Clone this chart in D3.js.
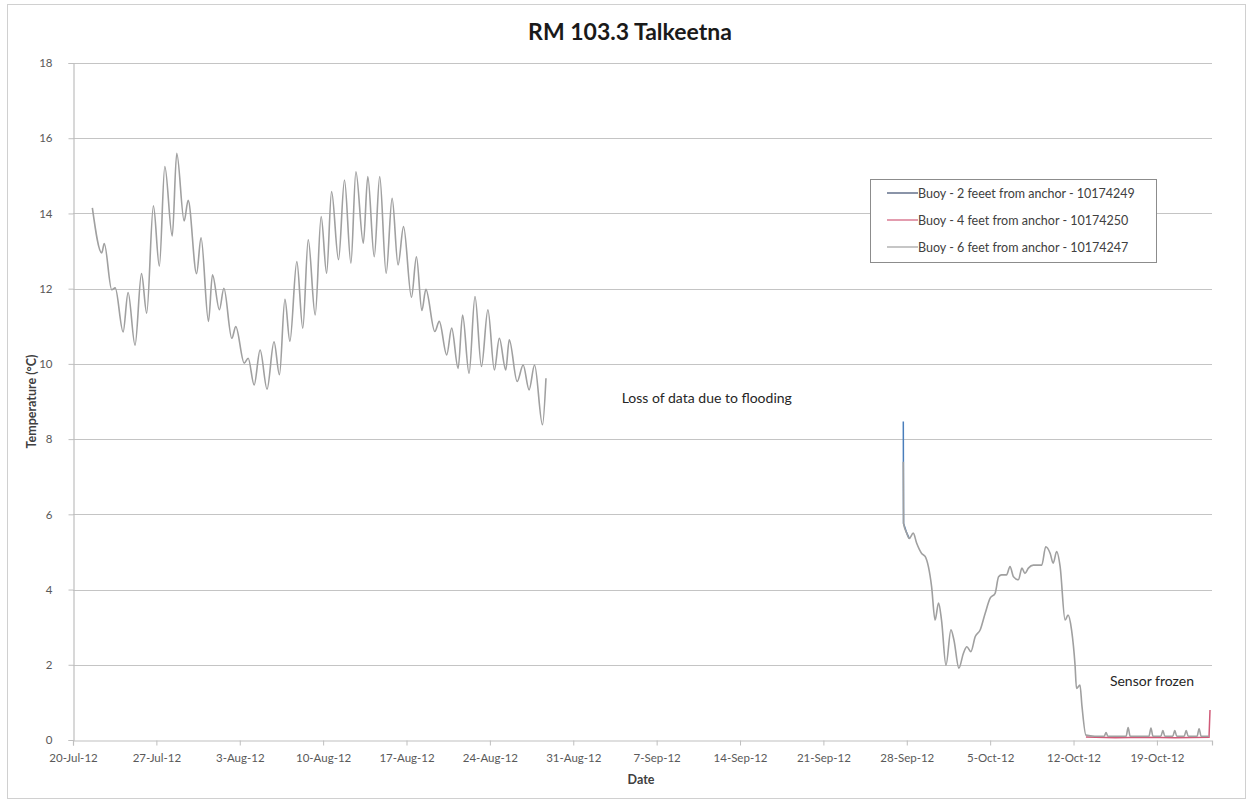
<!DOCTYPE html>
<html>
<head>
<meta charset="utf-8">
<script src="https://cdn.jsdelivr.net/npm/d3@7"></script>
<style>
  html, body { margin: 0; padding: 0; background: #fff; }
  svg { display: block; font-family: Lato, "Open Sans", "Liberation Sans", sans-serif; }
</style>
</head>
<body>
<svg id="chart" width="1252" height="803"></svg>
<script>
// ---------- DATA ----------
const chartTitle = "RM 103.3 Talkeetna";
const xAxisTitle = "Date";
const yAxisTitle = "Temperature (°C)";
const seriesNames = [
  "Buoy - 2 feeet from anchor - 10174249",
  "Buoy - 4 feet from anchor - 10174250",
  "Buoy - 6 feet from anchor - 10174247"
];
const yTicks = [0, 2, 4, 6, 8, 10, 12, 14, 16, 18];
const xTickDates = ["2012-07-20", "2012-07-27", "2012-08-03", "2012-08-10", "2012-08-17",
  "2012-08-24", "2012-08-31", "2012-09-07", "2012-09-14", "2012-09-21", "2012-09-28",
  "2012-10-05", "2012-10-12", "2012-10-19"];
const xDomain = ["2012-07-20 00:00", "2012-10-23 15:00"];
const annotations = [
  { text: "Loss of data due to flooding", date: "2012-09-11 05:00", value: 8.95 },
  { text: "Sensor frozen", date: "2012-10-18 14:00", value: 1.44 }
];

// Buoy 6 ft (gray) — summer segment, before flood
const buoy6Summer = [
  ["2012-07-21 15:00", 14.15], ["2012-07-22 10:00", 12.95], ["2012-07-22 15:00", 13.2],
  ["2012-07-23 06:00", 11.97], ["2012-07-23 13:00", 12.02], ["2012-07-24 05:00", 10.85],
  ["2012-07-24 15:00", 11.9], ["2012-07-25 05:00", 10.5], ["2012-07-25 18:00", 12.4],
  ["2012-07-26 04:30", 11.35], ["2012-07-26 18:00", 14.2], ["2012-07-27 06:00", 12.6],
  ["2012-07-27 17:00", 15.25], ["2012-07-28 08:00", 13.4], ["2012-07-28 17:00", 15.6],
  ["2012-07-29 08:00", 13.8], ["2012-07-29 16:00", 14.35], ["2012-07-30 09:00", 12.4],
  ["2012-07-30 18:00", 13.35], ["2012-07-31 09:00", 11.13], ["2012-07-31 17:00", 12.37],
  ["2012-08-01 07:00", 11.44], ["2012-08-01 16:00", 12.01], ["2012-08-02 08:00", 10.68],
  ["2012-08-02 16:00", 10.99], ["2012-08-03 09:00", 10.02], ["2012-08-03 17:00", 10.15],
  ["2012-08-04 05:00", 9.44], ["2012-08-04 17:00", 10.37], ["2012-08-05 07:00", 9.33],
  ["2012-08-05 21:00", 10.59], ["2012-08-06 08:00", 9.71], ["2012-08-06 19:00", 11.72],
  ["2012-08-07 05:00", 10.6], ["2012-08-07 19:00", 12.72], ["2012-08-08 07:00", 10.95],
  ["2012-08-08 18:00", 13.3], ["2012-08-09 08:00", 11.3], ["2012-08-09 20:00", 13.92],
  ["2012-08-10 07:00", 12.41], ["2012-08-10 17:00", 14.58], ["2012-08-11 07:00", 12.77],
  ["2012-08-11 19:00", 14.89], ["2012-08-12 08:00", 12.68], ["2012-08-12 18:00", 15.11],
  ["2012-08-13 09:00", 13.21], ["2012-08-13 18:00", 14.98], ["2012-08-14 07:00", 12.85],
  ["2012-08-14 18:00", 14.98], ["2012-08-15 07:00", 12.41], ["2012-08-15 19:00", 14.4],
  ["2012-08-16 07:00", 12.63], ["2012-08-16 18:00", 13.65], ["2012-08-17 10:00", 11.77],
  ["2012-08-17 20:00", 12.85], ["2012-08-18 07:00", 11.42], ["2012-08-18 15:00", 11.98],
  ["2012-08-19 09:00", 10.86], ["2012-08-19 18:00", 11.13], ["2012-08-20 09:00", 10.24],
  ["2012-08-20 19:00", 10.95], ["2012-08-21 08:00", 9.88], ["2012-08-21 17:00", 11.3],
  ["2012-08-22 06:00", 9.75], ["2012-08-22 18:00", 11.79], ["2012-08-23 07:00", 9.93],
  ["2012-08-23 20:00", 11.44], ["2012-08-24 09:00", 9.84], ["2012-08-24 19:00", 10.68],
  ["2012-08-25 08:00", 9.84], ["2012-08-25 15:00", 10.64], ["2012-08-26 07:00", 9.53],
  ["2012-08-26 19:00", 9.97], ["2012-08-27 07:00", 9.31], ["2012-08-27 18:00", 9.97],
  ["2012-08-28 10:00", 8.38], ["2012-08-28 17:00", 9.62]
];

// Buoy 6 ft (gray) — autumn segment, after flood
const buoy6Autumn = [
  ["2012-09-27 17:00", 7.4], ["2012-09-27 17:30", 5.76], ["2012-09-28 00:00", 5.5],
  ["2012-09-28 05:00", 5.36], ["2012-09-28 13:00", 5.5], ["2012-09-28 20:00", 5.23],
  ["2012-09-29 06:00", 4.96], ["2012-09-29 13:00", 4.88], ["2012-09-30 02:00", 4.08],
  ["2012-09-30 09:00", 3.19], ["2012-09-30 16:00", 3.64], ["2012-09-30 22:00", 3.19],
  ["2012-10-01 07:00", 1.99], ["2012-10-01 17:00", 2.93], ["2012-10-01 23:00", 2.66],
  ["2012-10-02 09:00", 1.91], ["2012-10-02 18:00", 2.3], ["2012-10-03 01:00", 2.48],
  ["2012-10-03 09:00", 2.35], ["2012-10-03 18:00", 2.75], ["2012-10-04 04:00", 2.93],
  ["2012-10-04 14:00", 3.37], ["2012-10-05 00:00", 3.77], ["2012-10-05 10:00", 3.9],
  ["2012-10-05 17:00", 4.34], ["2012-10-05 23:00", 4.39], ["2012-10-06 09:00", 4.39],
  ["2012-10-06 16:00", 4.61], ["2012-10-06 23:00", 4.34], ["2012-10-07 09:00", 4.26],
  ["2012-10-07 16:00", 4.57], ["2012-10-07 22:00", 4.43], ["2012-10-08 05:00", 4.57],
  ["2012-10-08 15:00", 4.65], ["2012-10-09 08:00", 4.65], ["2012-10-09 16:00", 5.14],
  ["2012-10-10 01:00", 4.96], ["2012-10-10 07:00", 4.7], ["2012-10-10 14:00", 5.01],
  ["2012-10-10 21:00", 4.61], ["2012-10-11 07:00", 3.19], ["2012-10-11 13:00", 3.32],
  ["2012-10-11 20:00", 2.93], ["2012-10-12 03:00", 2.0], ["2012-10-12 06:00", 1.37],
  ["2012-10-12 13:00", 1.46], ["2012-10-12 17:00", 0.9], ["2012-10-13 01:00", 0.13],
  ["2012-10-13 19:00", 0.1], ["2012-10-14 14:00", 0.1], ["2012-10-14 17:30", 0.2],
  ["2012-10-14 21:00", 0.1], ["2012-10-15 18:00", 0.1], ["2012-10-16 10:00", 0.1],
  ["2012-10-16 14:00", 0.33], ["2012-10-16 18:00", 0.1], ["2012-10-17 14:00", 0.1],
  ["2012-10-18 08:00", 0.1], ["2012-10-18 12:00", 0.32], ["2012-10-18 16:00", 0.1],
  ["2012-10-19 08:00", 0.1], ["2012-10-19 12:00", 0.25], ["2012-10-19 16:00", 0.1],
  ["2012-10-20 08:00", 0.1], ["2012-10-20 12:00", 0.25], ["2012-10-20 16:00", 0.1],
  ["2012-10-21 07:00", 0.1], ["2012-10-21 11:00", 0.25], ["2012-10-21 15:00", 0.1],
  ["2012-10-22 09:00", 0.1], ["2012-10-22 13:00", 0.3], ["2012-10-22 17:00", 0.1],
  ["2012-10-23 09:00", 0.1]
];

// Buoy 2 ft (blue) — spike at re-deployment
const buoy2 = [
  ["2012-09-27 17:00", 8.47], ["2012-09-27 17:30", 5.76], ["2012-09-28 00:00", 5.5],
  ["2012-09-28 05:00", 5.36]
];

// Buoy 4 ft (red) — frozen period with final spike
const buoy4 = [
  ["2012-10-13 01:00", 0.08], ["2012-10-15 12:00", 0.06], ["2012-10-18 00:00", 0.07],
  ["2012-10-20 12:00", 0.06], ["2012-10-23 09:00", 0.07], ["2012-10-23 11:00", 0.8]
];

// ---------- CHART ----------
const parse = d3.timeParse("%Y-%m-%d %H:%M");
const parseDay = d3.timeParse("%Y-%m-%d");
const toPts = arr => arr.map(d => ({ t: parse(d[0]), v: d[1] }));

const svg = d3.select("#chart");
const plot = { left: 73, right: 1212, top: 63, bottom: 740 };

const x = d3.scaleTime().domain(xDomain.map(parse)).range([plot.left, plot.right]);
const y = d3.scaleLinear().domain([0, 18]).range([plot.bottom, plot.top]);

// Outer border
svg.append("rect").attr("x", 7.5).attr("y", 4.5).attr("width", 1238).attr("height", 794)
  .attr("fill", "#fff").attr("stroke", "#d0d0d0").attr("stroke-width", 1);

// Gridlines
svg.append("g").selectAll("line").data(yTicks.filter(v => v > 0)).join("line")
  .attr("x1", plot.left).attr("x2", plot.right)
  .attr("y1", d => Math.round(y(d)) + 0.5).attr("y2", d => Math.round(y(d)) + 0.5)
  .attr("stroke", "#c4c4c4").attr("stroke-width", 1.2);

// Y axis
const yAxis = d3.axisLeft(y).tickValues(yTicks).tickSize(5).tickPadding(16);
const gy = svg.append("g").attr("transform", `translate(${plot.left + 0.5},0)`).call(yAxis);
gy.select(".domain").attr("stroke", "#bfbfbf").attr("stroke-width", 1.2);
gy.selectAll(".tick line").attr("stroke", "#bfbfbf");
gy.selectAll(".tick text").attr("fill", "#595959").style("font-size", "11.5px")
  .style("font-family", "Lato, sans-serif");

// X axis
const xAxis = d3.axisBottom(x).tickValues(xTickDates.map(parseDay))
  .tickFormat(d3.timeFormat("%-d-%b-%y")).tickSize(5).tickPadding(8);
const gx = svg.append("g").attr("transform", `translate(0,${plot.bottom + 0.5})`).call(xAxis);
gx.select(".domain").attr("stroke", "#bfbfbf").attr("stroke-width", 1.2);
gx.selectAll(".tick line").attr("stroke", "#bfbfbf");
gx.selectAll(".tick text").attr("fill", "#595959").style("font-size", "11.5px")
  .style("font-family", "Lato, sans-serif");

// Lines
const line = d3.line().x(d => x(d.t)).y(d => y(d.v)).curve(d3.curveMonotoneX);
const straight = d3.line().x(d => x(d.t)).y(d => y(d.v));
const colors = ["#4a7ebb", "#d05a78", "#a0a0a0"];

svg.append("path").datum(toPts(buoy2)).attr("d", straight)
  .attr("fill", "none").attr("stroke", colors[0]).attr("stroke-width", 1.5);
svg.append("path").datum(toPts(buoy4)).attr("d", straight)
  .attr("fill", "none").attr("stroke", colors[1]).attr("stroke-width", 1.5);
[buoy6Summer, buoy6Autumn].forEach(seg => {
  svg.append("path").datum(toPts(seg)).attr("d", line)
    .attr("fill", "none").attr("stroke", colors[2]).attr("stroke-width", 1.6)
    .attr("stroke-linejoin", "round");
});

// Title
svg.append("text").attr("x", 630).attr("y", 40).attr("text-anchor", "middle")
  .style("font-size", "23px").style("font-weight", "bold").attr("fill", "#1a1a1a")
  .text(chartTitle);

// Axis titles
svg.append("text").attr("x", 641).attr("y", 784).attr("text-anchor", "middle")
  .style("font-size", "12.5px").style("font-weight", "bold").attr("fill", "#404040")
  .text(xAxisTitle);
svg.append("text").attr("transform", `translate(36,${(plot.top + plot.bottom) / 2}) rotate(-90)`)
  .attr("text-anchor", "middle")
  .style("font-size", "12.5px").style("font-weight", "bold").attr("fill", "#404040")
  .text(yAxisTitle);

// Annotations
svg.append("g").selectAll("text").data(annotations).join("text")
  .attr("x", d => x(parse(d.date))).attr("y", d => y(d.value))
  .attr("text-anchor", "middle").style("font-size", "14px").attr("fill", "#262626")
  .text(d => d.text);

// Legend
const lg = svg.append("g").attr("transform", "translate(870,179)");
lg.append("rect").attr("x", 0.5).attr("y", 0.5).attr("width", 286).attr("height", 83)
  .attr("fill", "#fff").attr("stroke", "#8c8c8c").attr("stroke-width", 1);
const legendColors = ["#3c4e6e", "#d05a78", "#a0a0a0"];
seriesNames.forEach((name, i) => {
  const yy = 14 + i * 27;
  lg.append("line").attr("x1", 17).attr("x2", 48).attr("y1", yy).attr("y2", yy)
    .attr("stroke", legendColors[i]).attr("stroke-width", 1.2);
  lg.append("text").attr("x", 48).attr("y", yy + 4.5).style("font-size", "12.5px")
    .attr("fill", "#404040").text(name);
});
</script>
</body>
</html>
